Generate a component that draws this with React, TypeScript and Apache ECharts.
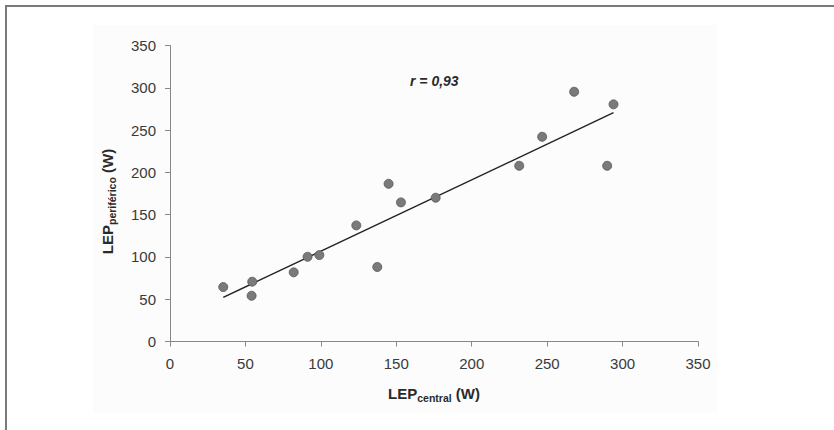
import React, { useEffect, useRef } from "react";
import * as echarts from "echarts";

// Data
const lepCentral: number[] = [35.3, 54.5, 54.1, 82.0, 91.2, 99.0, 123.5, 137.4, 144.9, 153.1, 176.1, 231.5, 246.7, 267.9, 294.0, 289.8];
const lepPeriferico: number[] = [64.4, 70.7, 54.1, 81.8, 100.2, 102.2, 137.3, 88.1, 186.5, 164.5, 170.0, 207.8, 242.1, 295.3, 280.4, 207.8];
const trendX: number[] = [35.3, 294.0];
const trendY: number[] = [52.2, 270.5];
const axisTicks: number[] = [0, 50, 100, 150, 200, 250, 300, 350];
const correlationLabel = "r = 0,93";

const FONT = "'Liberation Sans', Arial, Helvetica, sans-serif";

export default function App() {
  const ref = useRef<HTMLDivElement>(null);

  useEffect(() => {
    if (!ref.current) return;
    const chart = echarts.init(ref.current, undefined, { renderer: "svg" });
    const points = lepCentral.map((x, i) => [x, lepPeriferico[i]]);
    const trend = trendX.map((x, i) => [x, trendY[i]]);
    const axMin = axisTicks[0];
    const axMax = axisTicks[axisTicks.length - 1];
    const step = axisTicks[1] - axisTicks[0];

    const rich = {
      b: { fontFamily: FONT, fontWeight: "bold", fontSize: 15, color: "#2a2a2a", lineHeight: 20, verticalAlign: "middle" },
      s: { fontFamily: FONT, fontWeight: "bold", fontSize: 10.5, color: "#2a2a2a", lineHeight: 10, verticalAlign: "bottom" },
    };

    const axisCommon = {
      type: "value",
      min: axMin,
      max: axMax,
      interval: step,
      splitLine: { show: false },
      axisLine: { show: true, lineStyle: { color: "#888888", width: 1 } },
      axisTick: { show: true, length: 5, lineStyle: { color: "#888888" } },
      nameLocation: "middle",
    };

    chart.setOption({
      animation: false,
      backgroundColor: "#ffffff",
      textStyle: { fontFamily: FONT },
      grid: { left: 170, top: 45.5, right: 136, bottom: 88.5, containLabel: false },
      xAxis: {
        ...axisCommon,
        name: "{b|LEP}{s|central}{b| (W)}",
        nameGap: 42,
        nameTextStyle: { rich },
        axisLabel: { fontFamily: FONT, fontSize: 15, color: "#3a3a3a", margin: 14 },
      },
      yAxis: {
        ...axisCommon,
        name: "{b|LEP}{s|periférico}{b| (W)}",
        nameGap: 53,
        nameRotate: 90,
        nameTextStyle: { rich, padding: [0, 16, 0, 0] },
        axisLabel: { fontFamily: FONT, fontSize: 15, color: "#3a3a3a", margin: 14 },
      },
      graphic: [
        { type: "rect", z: -10, shape: { x: 93, y: 25, width: 624, height: 388 }, style: { fill: "#fcfcfc" } },
        { type: "line", shape: { x1: 5, y1: 6, x2: 834, y2: 6 }, style: { stroke: "#7a7a7a", lineWidth: 2 } },
        { type: "line", shape: { x1: 6, y1: 5, x2: 6, y2: 430 }, style: { stroke: "#7a7a7a", lineWidth: 2 } },
        {
          type: "text",
          left: 410,
          top: 74,
          style: { text: correlationLabel, font: `italic bold 14px ${FONT}`, fill: "#2a2a2a" },
        },
      ],
      series: [
        {
          type: "line",
          data: trend,
          symbol: "none",
          lineStyle: { color: "#222222", width: 1.4 },
          z: 2,
        },
        {
          type: "scatter",
          data: points,
          symbol: "circle",
          symbolSize: 9,
          itemStyle: { color: "#7a7a7a", borderColor: "#555555", borderWidth: 0.8, opacity: 1 },
          z: 3,
        },
      ],
    });
    return () => chart.dispose();
  }, []);

  return <div ref={ref} style={{ position: "fixed", left: 0, top: 0, width: 834, height: 430 }} />;
}
